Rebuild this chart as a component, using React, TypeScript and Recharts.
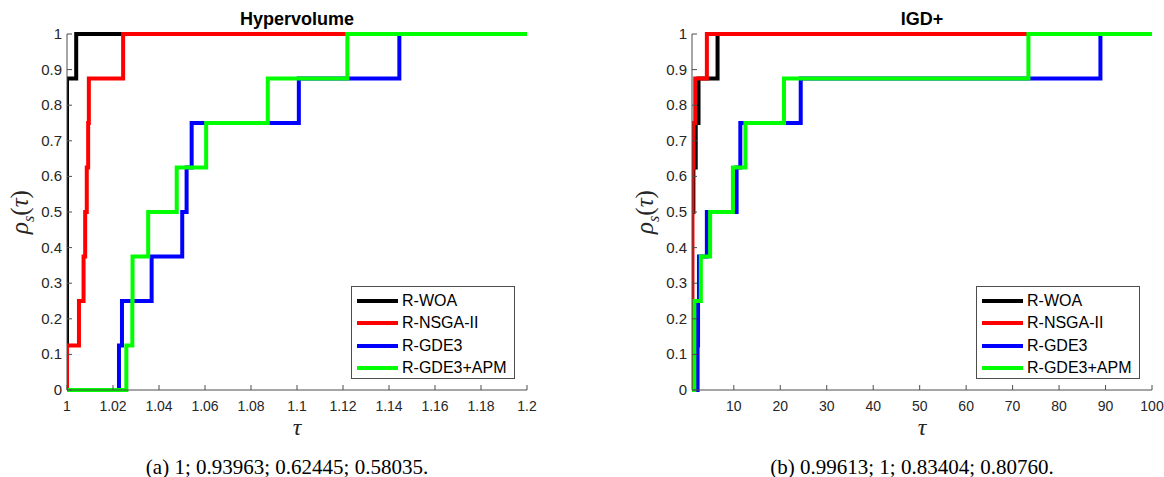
import React from "react";
import { LineChart, Line, XAxis, YAxis } from "recharts";

const SANS = "'Liberation Sans', Arial, sans-serif";
const SERIF = "'Liberation Serif', 'Times New Roman', serif";
const AXIS = "#4d4d4d";
const TXT = "#262626";

const SERIES_NAMES = ["R-WOA", "R-NSGA-II", "R-GDE3", "R-GDE3+APM"];
const SERIES_COLORS = ["#000000", "#ff0000", "#0000ff", "#00ff00"];

const RHO_TICKS = [0, 0.1, 0.2, 0.3, 0.4, 0.5, 0.6, 0.7, 0.8, 0.9, 1];

/* (a) Hypervolume */
const HV_TICKS = [1, 1.02, 1.04, 1.06, 1.08, 1.1, 1.12, 1.14, 1.16, 1.18, 1.2];
const hvWoaTau = [1, 1, 1.004, 1.2];
const hvWoaRho = [0, 0.875, 1, 1];
const hvNsgaTau = [1, 1, 1.0052, 1.0072, 1.0079, 1.0086, 1.0092, 1.0095, 1.0244, 1.2];
const hvNsgaRho = [0, 0.125, 0.25, 0.375, 0.5, 0.625, 0.75, 0.875, 1, 1];
const hvGdeTau = [1, 1.0226, 1.0239, 1.0368, 1.0501, 1.052, 1.0542, 1.1008, 1.1445, 1.2];
const hvGdeRho = [0, 0.125, 0.25, 0.375, 0.5, 0.625, 0.75, 0.875, 1, 1];
const hvApmTau = [1, 1.0258, 1.0284, 1.0285, 1.0353, 1.0477, 1.0605, 1.0873, 1.1219, 1.2];
const hvApmRho = [0, 0.125, 0.25, 0.375, 0.5, 0.625, 0.75, 0.875, 1, 1];

/* (b) IGD+ */
const IGD_TICKS = [10, 20, 30, 40, 50, 60, 70, 80, 90, 100];
const igdWoaTau = [1, 1, 1.3, 1.8, 2.4, 6.5, 100];
const igdWoaRho = [0, 0.5, 0.625, 0.75, 0.875, 1, 1];
const igdNsgaTau = [1, 1.1, 1.3, 1.7, 4.2, 100];
const igdNsgaRho = [0, 0.625, 0.75, 0.875, 1, 1];
const igdGdeTau = [1, 2.2, 2.3, 2.5, 4.2, 10.6, 11.4, 24.4, 88.9, 100];
const igdGdeRho = [0, 0.125, 0.25, 0.375, 0.5, 0.625, 0.75, 0.875, 1, 1];
const igdApmTau = [1, 1.5, 2.9, 4.9, 9.8, 12.5, 20.8, 73.4, 100];
const igdApmRho = [0, 0.25, 0.375, 0.5, 0.625, 0.75, 0.875, 1, 1];

const zip = (tau: number[], rho: number[]) => tau.map((x, i) => ({ x, y: rho[i] }));
const fmt = (v: number) => String(Number(v.toFixed(3)));

/* ── inward ticks, MATLAB box style ── */

function BottomTick({ x, y, payload }: any) {
  return (
    <g>
      <line x1={x} x2={x} y1={y} y2={y - 5} stroke={AXIS} />
      <text x={x} y={y + 21} textAnchor="middle" fontSize={14} fontFamily={SANS} fill={TXT}>
        {fmt(payload.value)}
      </text>
    </g>
  );
}

function LeftTick({ x, y, payload }: any) {
  return (
    <g>
      <line x1={x} x2={x + 5} y1={y} y2={y} stroke={AXIS} />
      <text x={x - 5} y={y + 5} textAnchor="end" fontSize={15} fontFamily={SANS} fill={TXT}>
        {fmt(payload.value)}
      </text>
    </g>
  );
}

function TopTick({ x, y }: any) {
  return <line x1={x} x2={x} y1={y} y2={y + 5} stroke={AXIS} />;
}

function RightTick({ x, y }: any) {
  return <line x1={x} x2={x - 5} y1={y} y2={y} stroke={AXIS} />;
}

interface PanelProps {
  left: number;
  width: number;
  title: string;
  caption: string;
  domain: [number, number];
  ticks: number[];
  series: { x: number; y: number }[][];
}

const H = 477;

function Panel({ left, width, title, caption, domain, ticks, series }: PanelProps) {
  // plot area: x 67..527, y 34..390 within the panel
  const plotL = 67;
  const plotR = 527;
  const plotT = 34;
  const plotB = 390;
  const cx = (plotL + plotR) / 2;
  return (
    <div style={{ position: "absolute", left, top: 0, width, height: H }}>
      <LineChart
        width={width}
        height={H}
        margin={{ top: plotT, right: width - plotR, left: plotL - 40, bottom: H - plotB - 30 }}
      >
        <XAxis
          xAxisId="b"
          dataKey="x"
          type="number"
          domain={domain}
          ticks={ticks}
          interval={0}
          allowDataOverflow
          height={30}
          tickSize={0}
          tickMargin={0}
          tickLine={false}
          axisLine={{ stroke: AXIS }}
          tick={<BottomTick />}
        />
        <XAxis
          xAxisId="t"
          dataKey="x"
          type="number"
          orientation="top"
          domain={domain}
          ticks={ticks}
          interval={0}
          allowDataOverflow
          height={0}
          tickSize={0}
          tickMargin={0}
          tickLine={false}
          axisLine={{ stroke: AXIS }}
          tick={<TopTick />}
        />
        <YAxis
          yAxisId="l"
          type="number"
          domain={[0, 1]}
          ticks={RHO_TICKS}
          interval={0}
          width={40}
          tickSize={0}
          tickMargin={0}
          tickLine={false}
          axisLine={{ stroke: AXIS }}
          tick={<LeftTick />}
        />
        <YAxis
          yAxisId="r"
          type="number"
          orientation="right"
          domain={[0, 1]}
          ticks={RHO_TICKS}
          interval={0}
          width={0}
          tickSize={0}
          tickMargin={0}
          tickLine={false}
          axisLine={{ stroke: AXIS }}
          tick={<RightTick />}
        />
        {series.map((data, i) => (
          <Line
            key={SERIES_NAMES[i]}
            xAxisId="b"
            yAxisId="l"
            data={data}
            dataKey="y"
            type="stepAfter"
            stroke={SERIES_COLORS[i]}
            strokeWidth={4}
            dot={false}
            activeDot={false}
            isAnimationActive={false}
          />
        ))}
      </LineChart>

      {/* title */}
      <div
        style={{
          position: "absolute", left: cx, top: 19, transform: "translate(-50%, -50%)",
          fontFamily: SANS, fontWeight: "bold", fontSize: 18, color: "#000", whiteSpace: "nowrap",
        }}
      >
        {title}
      </div>

      {/* y label */}
      <div
        style={{
          position: "absolute", left: 22, top: (plotT + plotB) / 2,
          transform: "translate(-50%, -50%) rotate(-90deg)",
          fontFamily: SERIF, fontSize: 25, color: TXT, whiteSpace: "nowrap", lineHeight: 1,
        }}
      >
        <i>ρ</i>
        <sub style={{ fontSize: 16, fontStyle: "italic" }}>s</sub>(<i>τ</i>)
      </div>

      {/* x label */}
      <div
        style={{
          position: "absolute", left: cx, top: 427, transform: "translate(-50%, -50%)",
          fontFamily: SERIF, fontStyle: "italic", fontSize: 24, color: TXT, lineHeight: 1,
        }}
      >
        τ
      </div>

      {/* legend */}
      <div
        style={{
          position: "absolute", left: plotR - 176, top: 286, width: 164, height: 93,
          boxSizing: "border-box", border: `1px solid ${AXIS}`, background: "#fff",
          fontFamily: SANS, fontSize: 16, color: "#000",
        }}
      >
        {SERIES_NAMES.map((name, i) => (
          <div
            key={name}
            style={{ position: "absolute", left: 5, top: 3 + i * 22.4, height: 22, display: "flex", alignItems: "center" }}
          >
            <span style={{ display: "inline-block", width: 41, height: 4, background: SERIES_COLORS[i], marginRight: 4 }} />
            <span>{name}</span>
          </div>
        ))}
      </div>

      {/* caption */}
      <div
        style={{
          position: "absolute", left: cx - 10, top: 467, transform: "translate(-50%, -50%)",
          fontFamily: SERIF, fontSize: 21, color: "#000", whiteSpace: "nowrap", lineHeight: 1,
        }}
      >
        {caption}
      </div>
    </div>
  );
}

export default function App() {
  const hvSeries = [
    zip(hvWoaTau, hvWoaRho),
    zip(hvNsgaTau, hvNsgaRho),
    zip(hvGdeTau, hvGdeRho),
    zip(hvApmTau, hvApmRho),
  ];
  const igdSeries = [
    zip(igdWoaTau, igdWoaRho),
    zip(igdNsgaTau, igdNsgaRho),
    zip(igdGdeTau, igdGdeRho),
    zip(igdApmTau, igdApmRho),
  ];
  return (
    <>
      <style>{"html, body { margin: 0; padding: 0; overflow: hidden; }"}</style>
      <div style={{ position: "relative", width: 1164, height: 477, background: "#fff", overflow: "hidden" }}>
        <Panel
          left={0}
          width={560}
          title="Hypervolume"
          caption="(a) 1; 0.93963; 0.62445; 0.58035."
          domain={[1, 1.2]}
          ticks={HV_TICKS}
          series={hvSeries}
        />
        <Panel
          left={625}
          width={539}
          title="IGD+"
          caption="(b) 0.99613; 1; 0.83404; 0.80760."
          domain={[1, 100]}
          ticks={IGD_TICKS}
          series={igdSeries}
        />
      </div>
    </>
  );
}
